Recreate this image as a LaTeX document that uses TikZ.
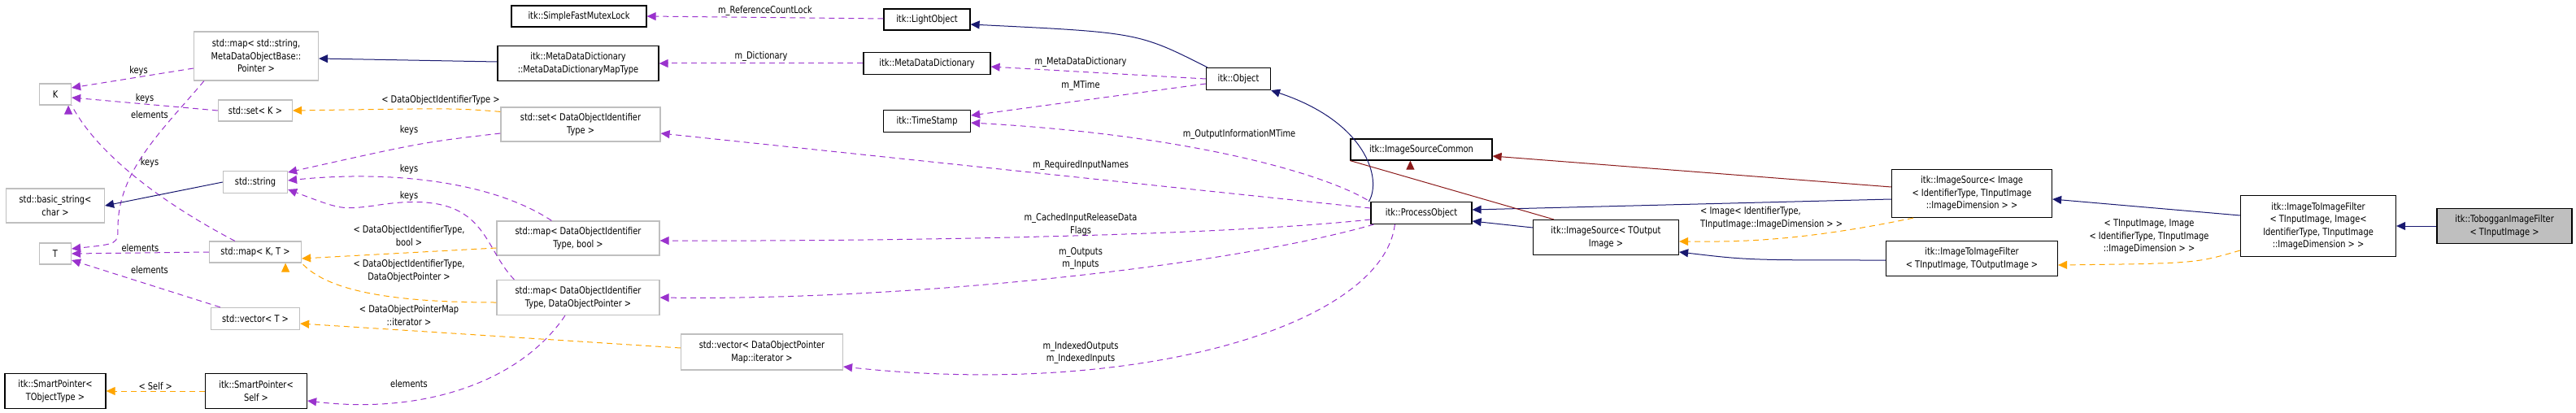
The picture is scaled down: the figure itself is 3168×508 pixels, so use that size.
\documentclass[tikz,border=0pt]{standalone}
\usepackage{fontspec}
\setmainfont{DejaVu Sans}[FakeStretch=0.82]
\usetikzlibrary{arrows.meta}
\definecolor{pur}{HTML}{9A32CD}
\definecolor{org}{HTML}{FFA500}
\definecolor{nav}{HTML}{191970}
\definecolor{drd}{HTML}{8B1A1A}
\begin{document}
\begin{tikzpicture}[x=1pt,y=-1pt,
  every node/.style={font=\fontsize{12}{15.5}\selectfont, align=center, inner sep=1pt},
  bx/.style={draw=black, line width=1.2pt, fill=white},
  gb/.style={draw=black!25, line width=1.2pt, fill=white},
  tip/.style={-{Triangle[length=11pt,width=10pt]}},
  mem/.style={tip, draw=pur, line width=1pt, dash pattern=on 7pt off 5pt},
  tpl/.style={tip, draw=org, line width=1pt, dash pattern=on 7pt off 5pt},
  inh/.style={tip, draw=nav, line width=1pt},
  prv/.style={tip, draw=drd, line width=1pt},
  lb/.style={fill=none}]
\useasboundingbox (0,0) rectangle (3168,508);
% nodes
\node[bx,minimum width=166,minimum height=26] (smfl) at (712,20) {itk::SimpleFastMutexLock};
\node[gb,minimum width=153,minimum height=60] (mapsm) at (315,69) {std::map< std::string,\\ MetaDataObjectBase::\\ Pointer >};
\node[gb,minimum width=39,minimum height=26] (K) at (68,116) {K};
\node[gb,minimum width=91,minimum height=26] (setK) at (314,136) {std::set< K >};
\node[bx,minimum width=198,minimum height=43] (mdmt) at (711,78) {itk::MetaDataDictionary\\ ::MetaDataDictionaryMapType};
\node[gb,minimum width=196,minimum height=42] (setd) at (714,153) {std::set< DataObjectIdentifier\\ Type >};
\node[gb,minimum width=79,minimum height=27] (str) at (314,224) {std::string};
\node[gb,minimum width=121,minimum height=42] (bstr) at (68,253) {std::basic\_string<\\ char >};
\node[gb,minimum width=39,minimum height=26] (T) at (68,312) {T};
\node[gb,minimum width=113,minimum height=26] (mapKT) at (314,310) {std::map< K, T >};
\node[gb,minimum width=200,minimum height=42] (mapb) at (711,293) {std::map< DataObjectIdentifier\\ Type, bool >};
\node[gb,minimum width=200,minimum height=43] (mapd) at (711,366) {std::map< DataObjectIdentifier\\ Type, DataObjectPointer >};
\node[gb,minimum width=109,minimum height=27] (vecT) at (314,392) {std::vector< T >};
\node[bx,minimum width=124,minimum height=43] (spT) at (68,481) {itk::SmartPointer<\\ TObjectType >};
\node[bx,minimum width=125,minimum height=43] (spS) at (315,481) {itk::SmartPointer<\\ Self >};
\node[bx,minimum width=106,minimum height=26] (lo) at (1140,24) {itk::LightObject};
\node[bx,minimum width=156,minimum height=27] (mdd) at (1140,78) {itk::MetaDataDictionary};
\node[bx,minimum width=107,minimum height=27] (ts) at (1140,149) {itk::TimeStamp};
\node[bx,minimum width=79,minimum height=27] (obj) at (1523,97) {itk::Object};
\node[gb,minimum width=199,minimum height=44] (veci) at (937,433) {std::vector< DataObjectPointer\\ Map::iterator >};
\node[bx,minimum width=124,minimum height=27] (po) at (1748,262) {itk::ProcessObject};
\node[bx,minimum width=174,minimum height=26] (isc) at (1748,184) {itk::ImageSourceCommon};
\node[bx,minimum width=179,minimum height=43] (isT) at (1975,292) {itk::ImageSource< TOutput\\ Image >};
\node[bx,minimum width=197,minimum height=59] (isI) at (2425,238) {itk::ImageSource< Image\\ < IdentifierType, TInputImage\\ ::ImageDimension > >};
\node[bx,minimum width=211,minimum height=43] (itT) at (2425,318) {itk::ImageToImageFilter\\ < TInputImage, TOutputImage >};
\node[bx,minimum width=191,minimum height=75] (itI) at (2851,278) {itk::ImageToImageFilter\\ < TInputImage, Image<\\ IdentifierType, TInputImage\\ ::ImageDimension > >};
\node[draw=black,line width=1.2pt,fill=black!25,minimum width=166,minimum height=43] (tob) at (3080,278) {itk::TobogganImageFilter\\ < TInputImage >};
% left cluster edges
\draw[mem] (mapsm.west|-0,84) -- (K.east|-0,108) node[lb,pos=0.45,above] {keys};
\draw[mem] (setK.west) -- (K.east|-0,120) node[lb,pos=0.5,above] {keys};
\draw[mem] (mapsm.south west)++(13,0) .. controls (200,160) and (145,210) .. (145,280) .. controls (145,300) .. (T.east|-0,306);
\node[lb] at (184,141) {elements};
\draw[mem] (mapKT.north west)++(32,0) .. controls (200,250) and (120,190) .. (K.south east)++(-4,0);
\node[lb] at (184,200) {keys};
\draw[inh] (str.west) -- (bstr.east);
\draw[mem] (mapKT.west) -- (T.east) node[lb,pos=0.5,above] {elements};
\draw[mem] (vecT.north west)++(12,0) -- (T.east|-0,320);
\node[lb] at (184,332) {elements};
\draw[tpl] (spS.west) -- (spT.east) node[lb,pos=0.5,above] {< Self >};
\draw[inh] (mdmt.west|-0,76) -- (mapsm.east|-0,72);
\draw[tpl] (setd.north west)++(0,6) .. controls (560,133) .. (setK.east|-0,136) node[lb,pos=0.5,above=3pt] {< DataObjectIdentifierType >};
\draw[mem] (setd.west|-0,164) .. controls (520,175) .. (str.east|-0,212);
\node[lb] at (503,160) {keys};
\draw[mem] (mapb.north west)++(68,0) .. controls (600,220) and (470,210) .. (str.east|-0,222);
\node[lb] at (503,208) {keys};
\draw[mem] (mapd.north west)++(22,0) .. controls (590,300) and (600,230) .. (460,253) .. controls (420,258) .. (str.east|-0,233);
\node[lb] at (503,241) {keys};
\draw[tpl] (mapb.west|-0,305) -- (mapKT.east|-0,318);
\node[lb] at (503,290) {< DataObjectIdentifierType,\\ bool >};
\draw[tpl] (mapd.west|-0,372) .. controls (470,372) and (400,355) .. (mapKT.south east)++(-20,0);
\node[lb] at (503,333) {< DataObjectIdentifierType,\\ DataObjectPointer >};
\draw[tpl] (veci.west|-0,428) -- (vecT.east|-0,398);
\node[lb] at (503,388) {< DataObjectPointerMap\\ ::iterator >};
\draw[mem] (mapd.south)++(-16,0) .. controls (640,470) and (520,510) .. (spS.east|-0,493);
\node[lb] at (503,472) {elements};
% middle edges
\draw[mem] (lo.west|-0,23) -- (smfl.east) node[lb,pos=0.5,above=1pt] {m\_ReferenceCountLock};
\draw[mem] (mdd.west) -- (mdmt.east) node[lb,pos=0.5,above=1pt] {m\_Dictionary};
\draw[mem] (obj.west) -- (mdd.east|-0,82);
\node[lb] at (1329,76) {m\_MetaDataDictionary};
\draw[mem] (obj.west|-0,103) -- (ts.east|-0,142);
\node[lb] at (1329,105) {m\_MTime};
\draw[mem] (po.north west)++(-4,-2) .. controls (1620,210) and (1450,165) .. (ts.east|-0,151);
\node[lb] at (1524,165) {m\_OutputInformationMTime};
\draw[mem] (po.west|-0,256) -- (setd.east|-0,164);
\node[lb] at (1329,203) {m\_RequiredInputNames};
\draw[mem] (po.west|-0,270) .. controls (1500,290) and (1100,297) .. (mapb.east|-0,296);
\node[lb] at (1329,276) {m\_CachedInputReleaseData\\ Flags};
\draw[mem] (po.south west)++(4,0) .. controls (1500,330) and (1100,370) .. (mapd.east|-0,366);
\node[lb] at (1329,318) {m\_Outputs\\ m\_Inputs};
\draw[mem] (po.south west)++(30,0) .. controls (1700,400) and (1400,490) .. (veci.east|-0,451);
\node[lb] at (1329,434) {m\_IndexedOutputs\\ m\_IndexedInputs};
\draw[inh] (obj.north west)++(2,0) .. controls (1400,40) .. (lo.east|-0,30);
\draw[inh] (po.north west)++(-2,0) .. controls (1700,220) and (1680,150) .. (obj.south east);
% right edges
\draw[inh] (isT.west|-0,280) -- (po.east|-0,272);
\draw[inh] (isI.west|-0,245) -- (po.east|-0,258);
\draw[prv] (isT.north west)++(26,0) -- (isc.south west)++(74,0);
\draw[prv] (isI.west|-0,230) -- (isc.east|-0,192);
\draw[tpl] (isI.south west)++(27,0) .. controls (2200,300) and (2120,297) .. (isT.east|-0,297);
\node[lb,align=left,anchor=west] at (2090,268) {< Image< IdentifierType,\\ TInputImage::ImageDimension > >};
\draw[inh] (itT.west|-0,320) .. controls (2150,320) .. (isT.east|-0,310);
\draw[inh] (itI.west|-0,265) -- (isI.east|-0,245);
\draw[tpl] (itI.west|-0,308) .. controls (2700,324) .. (itT.east|-0,326);
\node[lb] at (2643,291) {< TInputImage, Image\\ < IdentifierType, TInputImage\\ ::ImageDimension > >};
\draw[inh] (tob.west) -- (itI.east|-0,278);
\end{tikzpicture}
\end{document}
